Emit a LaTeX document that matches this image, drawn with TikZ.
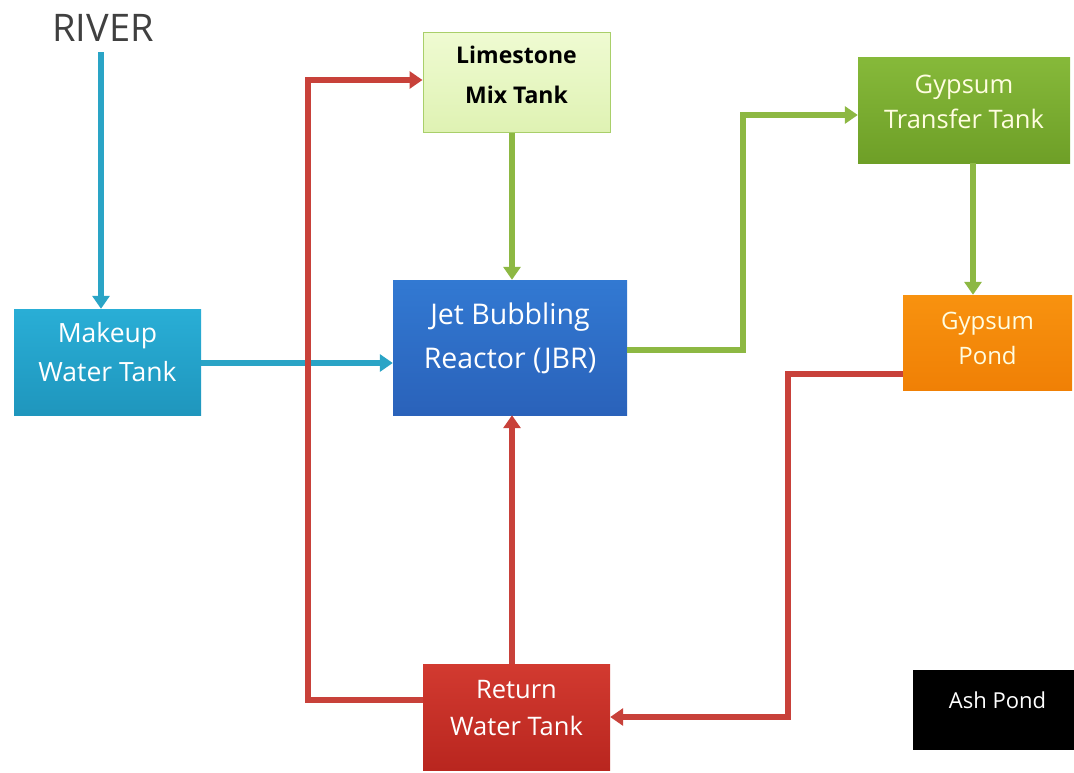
\documentclass[tikz,border=0pt]{standalone}
\usepackage{fontspec}
\setmainfont{Open Sans}
\usetikzlibrary{arrows.meta}
\definecolor{cblue}{HTML}{2AA4C6}
\definecolor{cgreen}{HTML}{8DB843}
\definecolor{cred}{HTML}{C8413A}
\definecolor{mktop}{HTML}{29AED6}
\definecolor{mkbot}{HTML}{1F96BD}
\definecolor{limetop}{HTML}{EFFBD2}
\definecolor{limebot}{HTML}{DFF2B3}
\definecolor{limeedge}{HTML}{A9CF6A}
\definecolor{gttop}{HTML}{86B93A}
\definecolor{gtbot}{HTML}{6E9F27}
\definecolor{jbrtop}{HTML}{3279D2}
\definecolor{jbrbot}{HTML}{2A62BA}
\definecolor{pondtop}{HTML}{F8920F}
\definecolor{pondbot}{HTML}{F08005}
\definecolor{rettop}{HTML}{D23A30}
\definecolor{retbot}{HTML}{B9261F}
\tikzset{
  box/.style={rectangle, inner sep=0pt},
  txt/.style={inner sep=0pt, align=center, text=white},
  flow/.style={line width=5.5pt, -{Triangle[length=13pt,width=17pt]}},
}
\begin{document}
\begin{tikzpicture}[x=1pt,y=-1pt]
\useasboundingbox (0,0) rectangle (1074,772);
% boxes
\node[box, top color=mktop, bottom color=mkbot, minimum width=187pt, minimum height=106pt] (mk) at (107.5,362) {};
\node[box, top color=limetop, bottom color=limebot, draw=limeedge, line width=1pt, minimum width=187pt, minimum height=100pt] (lime) at (516.5,82) {};
\node[box, top color=gttop, bottom color=gtbot, minimum width=212pt, minimum height=106pt] (gt) at (964,110) {};
\node[box, top color=jbrtop, bottom color=jbrbot, minimum width=234pt, minimum height=135pt] (jbr) at (510,347.5) {};
\node[box, top color=pondtop, bottom color=pondbot, minimum width=169pt, minimum height=95pt] (gp) at (987.5,342.5) {};
\node[box, top color=rettop, bottom color=retbot, minimum width=187pt, minimum height=106pt] (ret) at (516.5,717) {};
\node[box, fill=black, minimum width=161pt, minimum height=80pt] (ash) at (993.5,710) {};
% texts
\node[text=black!75, font=\fontsize{38}{42}\selectfont] (river) at (103,28) {RIVER};
\node[txt, font=\fontsize{26.5}{39}\selectfont] (mkt) at ([yshift=9.5pt]mk.center) {Makeup\\Water Tank};
\node[txt, text=black, font=\bfseries\fontsize{23}{40}\selectfont] (limet) at ([yshift=7pt]lime.center) {Limestone\\Mix Tank};
\node[txt, text=white!88!yellow, font=\fontsize{25.5}{35}\selectfont] (gtt) at ([yshift=8.5pt]gt.center) {Gypsum\\Transfer Tank};
\node[txt, font=\fontsize{28.5}{44}\selectfont] (jbrt) at ([yshift=9.5pt]jbr.center) {Jet Bubbling\\Reactor (JBR)};
\node[txt, text=white!88!yellow, font=\fontsize{24}{35}\selectfont] (gpt) at ([yshift=4pt]gp.center) {Gypsum\\Pond};
\node[txt, font=\fontsize{25.5}{37}\selectfont] (rett) at ([yshift=8.5pt]ret.center) {Return\\Water Tank};
\node[txt, font=\fontsize{22}{25}\selectfont] (asht) at ([xshift=4pt,yshift=10pt]ash.center) {Ash Pond};
% connectors
\draw[flow, cblue] (101,52) -- (mk.north -| 101,0);
\draw[flow, cblue] (mk.east |- 0,363) -- (jbr.west |- 0,363);
\draw[flow, cgreen] (lime.south -| 512,0) -- (jbr.north -| 512,0);
\draw[flow, cgreen] (jbr.east |- 0,350) -| (743,115) -- (gt.west |- 0,115);
\draw[flow, cgreen] (gt.south -| 973,0) -- (gp.north -| 973,0);
\draw[flow, cred] (gp.west |- 0,374) -| (788,717) -- (ret.east |- 0,717);
\draw[flow, cred] (ret.north -| 512,0) -- (jbr.south -| 512,0);
\draw[flow, cred] (ret.west |- 0,700) -| (308,80) -- (lime.west |- 0,80);
\end{tikzpicture}
\end{document}
